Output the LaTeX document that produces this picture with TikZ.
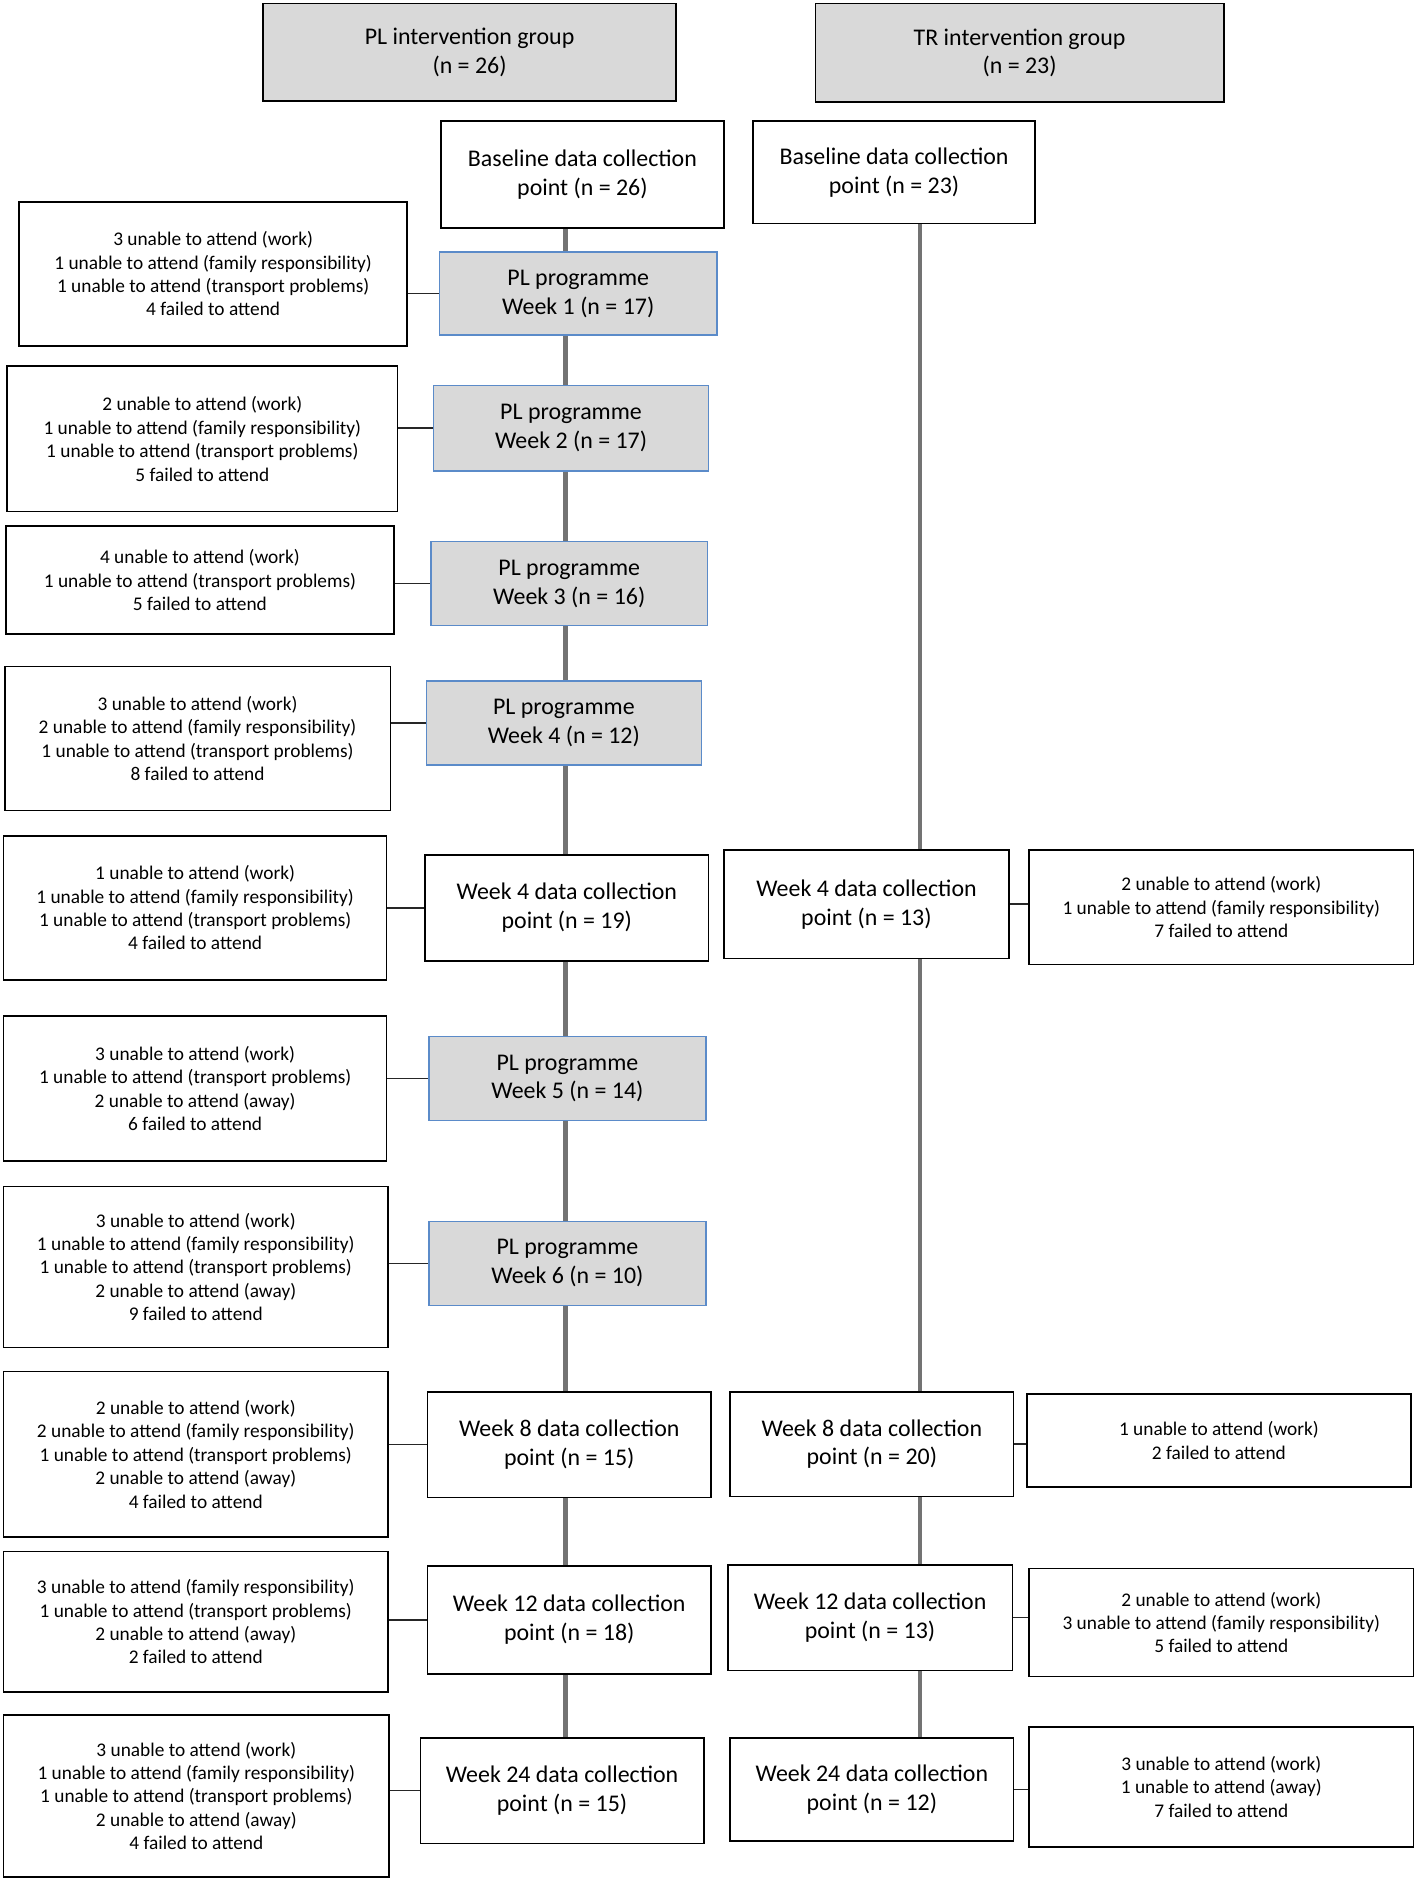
\documentclass[tikz,border=0pt]{standalone}
\usepackage{fontspec}
\setmainfont{Carlito}
\definecolor{boxgray}{HTML}{D9D9D9}
\definecolor{boxblue}{HTML}{5B8BC9}
\definecolor{spinegray}{HTML}{737373}

\begin{document}
\begin{tikzpicture}[x=0.024cm, y=-0.024cm,
    sz/.style 2 args={minimum width=#1*0.024cm, minimum height=#2*0.024cm},
    base/.style={rectangle, draw=black, line width=0.9pt, inner sep=0pt, align=center,
      font=\fontsize{13.6}{16.4}\selectfont},
    grp/.style={base, fill=boxgray},
    prog/.style={base, fill=boxgray, draw=boxblue},
    dpt/.style={base, fill=white},
    reason/.style={base, fill=white, font=\fontsize{11}{13.3}\selectfont},
    spine/.style={draw=spinegray, line width=2.6pt},
    link/.style={draw=black!85, line width=0.9pt}]
      \useasboundingbox (0,0) rectangle (1181,1568);

      % group headers
      \node[grp, sz={344}{81}](plg) at (391,43.5){PL intervention group\\(n = 26)};
      \node[grp, sz={340}{82}](trg) at (849,44){TR intervention group\\(n = 23)};

      % spine positions
      \coordinate (plx) at (471,0);
      \coordinate (trx) at (766,0);

      % PL arm
      \node[dpt, sz={236}{89}](plbase) at (485,145.5){Baseline data collection\\point (n = 26)};
      \node[prog, sz={231}{69}](w1) at (481.5,244.5){PL programme\\Week 1 (n = 17)};
      \node[prog, sz={229}{71}](w2) at (475.5,356.5){PL programme\\Week 2 (n = 17)};
      \node[prog, sz={230}{70}](w3) at (474,486){PL programme\\Week 3 (n = 16)};
      \node[prog, sz={229}{70}](w4) at (469.5,602){PL programme\\Week 4 (n = 12)};
      \node[dpt, sz={236}{88}](pld4) at (472,756){Week 4 data collection\\point (n = 19)};
      \node[prog, sz={231}{70}](w5) at (472.5,898){PL programme\\Week 5 (n = 14)};
      \node[prog, sz={231}{70}](w6) at (472.5,1052){PL programme\\Week 6 (n = 10)};
      \node[dpt, sz={236}{88}](pld8) at (474,1203){Week 8 data collection\\point (n = 15)};
      \node[dpt, sz={236}{90}](pld12) at (474,1349){Week 12 data collection\\point (n = 18)};
      \node[dpt, sz={236}{88}](pld24) at (468,1491){Week 24 data collection\\point (n = 15)};

      % PL reasons
      \node[reason, sz={323}{120}](r1) at (177.5,228){3 unable to attend (work)\\1 unable to attend (family responsibility)\\1 unable to attend (transport problems)\\4 failed to attend};
      \node[reason, sz={325}{121}](r2) at (168.5,365.5){2 unable to attend (work)\\1 unable to attend (family responsibility)\\1 unable to attend (transport problems)\\5 failed to attend};
      \node[reason, sz={323}{90}](r3) at (166.5,483){4 unable to attend (work)\\1 unable to attend (transport problems)\\5 failed to attend};
      \node[reason, sz={321}{120}](r4) at (164.5,615){3 unable to attend (work)\\2 unable to attend (family responsibility)\\1 unable to attend (transport problems)\\8 failed to attend};
      \node[reason, sz={319}{120}](r5) at (162.5,756){1 unable to attend (work)\\1 unable to attend (family responsibility)\\1 unable to attend (transport problems)\\4 failed to attend};
      \node[reason, sz={319}{121}](r6) at (162.5,906.5){3 unable to attend (work)\\1 unable to attend (transport problems)\\2 unable to attend (away)\\6 failed to attend};
      \node[reason, sz={320}{134}](r7) at (163,1055){3 unable to attend (work)\\1 unable to attend (family responsibility)\\1 unable to attend (transport problems)\\2 unable to attend (away)\\9 failed to attend};
      \node[reason, sz={320}{138}](r8) at (163,1211){2 unable to attend (work)\\2 unable to attend (family responsibility)\\1 unable to attend (transport problems)\\2 unable to attend (away)\\4 failed to attend};
      \node[reason, sz={320}{117}](r9) at (163,1350.5){3 unable to attend (family responsibility)\\1 unable to attend (transport problems)\\2 unable to attend (away)\\2 failed to attend};
      \node[reason, sz={321}{135}](r10) at (163.5,1495.5){3 unable to attend (work)\\1 unable to attend (family responsibility)\\1 unable to attend (transport problems)\\2 unable to attend (away)\\4 failed to attend};

      % TR arm
      \node[dpt, sz={235}{85}](trbase) at (744.5,143.5){Baseline data collection\\point (n = 23)};
      \node[dpt, sz={237}{90}](trd4) at (721.5,753){Week 4 data collection\\point (n = 13)};
      \node[dpt, sz={236}{87}](trd8) at (726,1202.5){Week 8 data collection\\point (n = 20)};
      \node[dpt, sz={237}{88}](trd12) at (724.5,1347){Week 12 data collection\\point (n = 13)};
      \node[dpt, sz={236}{86}](trd24) at (726,1490){Week 24 data collection\\point (n = 12)};

      % TR reasons
      \node[reason, sz={320}{95}](t4) at (1017,755.5){2 unable to attend (work)\\1 unable to attend (family responsibility)\\7 failed to attend};
      \node[reason, sz={320}{77}](t8) at (1015,1199.5){1 unable to attend (work)\\2 failed to attend};
      \node[reason, sz={320}{90}](t12) at (1017,1351){2 unable to attend (work)\\3 unable to attend (family responsibility)\\5 failed to attend};
      \node[reason, sz={320}{100}](t24) at (1017,1488){3 unable to attend (work)\\1 unable to attend (away)\\7 failed to attend};

      % spines
      \foreach \a/\b in {plbase/w1, w1/w2, w2/w3, w3/w4, w4/pld4, pld4/w5, w5/w6, w6/pld8, pld8/pld12, pld12/pld24}
        \draw[spine] (\a.south -| plx) -- (\b.north -| plx);
      \foreach \a/\b in {trbase/trd4, trd4/trd8, trd8/trd12, trd12/trd24}
        \draw[spine] (\a.south -| trx) -- (\b.north -| trx);

      % side links
      \foreach \r/\b in {r1/w1, r2/w2, r3/w3, r4/w4, r5/pld4, r6/w5, r7/w6, r8/pld8, r9/pld12, r10/pld24}
        \draw[link] (\r.east |- \b.west) -- (\b.west);
      \foreach \b/\r in {trd4/t4, trd8/t8, trd12/t12, trd24/t24}
        \draw[link] (\b.east) -- (\r.west |- \b.east);
    \end{tikzpicture}
\end{document}
